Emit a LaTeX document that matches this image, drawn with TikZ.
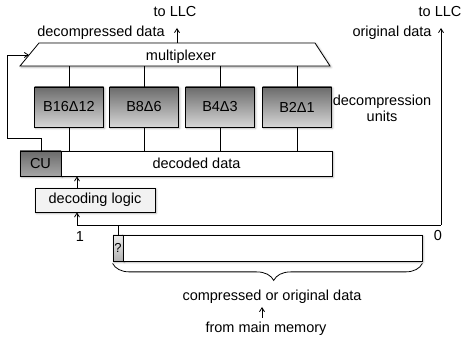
\documentclass[tikz,border=0pt]{standalone}
\usepackage{fontspec}
\setmainfont{Liberation Sans}
\usetikzlibrary{arrows.meta,decorations.pathreplacing,shadows.blur}
\begin{document}
\begin{tikzpicture}[x=1pt,y=-1pt,
  font=\fontsize{14.5}{16}\selectfont,
  line width=0.8pt,
  arr/.style={-{Straight Barb[length=4pt,width=5pt]}},
  shd/.style={blur shadow={shadow blur steps=6,shadow xshift=1.2pt,shadow yshift=-1.2pt,shadow opacity=30}},
  unitbox/.style={draw,shd,minimum width=69pt,minimum height=40pt,inner sep=0pt,top color=black!58,bottom color=black!16},
  wbox/.style={draw,shd,fill=white,minimum height=25pt,inner sep=0pt},
  lbl/.style={inner sep=0pt,anchor=base}]
\useasboundingbox (0,0) rectangle (463,344);
% multiplexer
\draw[shd,fill=white] (39,43) coordinate (mtl) -- (315,43) coordinate (mtr) -- (330,66) coordinate (mbr) -- (20,66) coordinate (mbl) -- cycle;
\node[lbl] (mux) at (181,60.5) {multiplexer};
\coordinate (muxout) at (177,43);
\coordinate (llcA) at (177,28);
\draw[arr] (muxout) -- (llcA);
\node[lbl] (llc1) at (175,17) {to LLC};
\node[lbl] (dd) at (101,37) {decompressed data};
% units
\node[unitbox] (u1) at (69,107) {B16Δ12};
\node[unitbox] (u2) at (144,107) {B8Δ6};
\node[unitbox] (u3) at (220,107) {B4Δ3};
\node[unitbox] (u4) at (297,107) {B2Δ1};
\node[align=center,inner sep=0pt] (du) at (382,108) {decompression\\units};
% decoded data
\node[wbox,minimum width=41pt,top color=black!58,bottom color=black!35] (cu) at (40.5,163.5) {CU};
\node[wbox,minimum width=271pt] (dec) at (196.5,163.5) {decoded data};
\foreach \u in {u1,u2,u3,u4}{
  \draw (\u.north) -- (\u.north |- mbl);
  \draw (\u.south) -- (\u.south |- dec.north);
}
% decoding logic
\node[draw,shd,fill=black!5,minimum width=120pt,minimum height=24pt,inner sep=0pt] (dl) at (95,200) {decoding logic};
% data block
\node[draw,shd,minimum width=10pt,minimum height=26pt,inner sep=0pt,top color=black!8,bottom color=black!30,font=\fontsize{13}{13}\selectfont] (q) at (118,248) {?};
\node[draw,shd,fill=white,minimum width=299pt,minimum height=26pt,inner sep=0pt] (data) at (272.5,248) {};
% feedback
\coordinate (fb1) at (41,138);
\coordinate (fb2) at (7,138);
\coordinate (fb3) at (7,55);
\coordinate (fb4) at (29,55);
\draw[arr] (cu.north -| fb1) -- (fb1) -- (fb2) -- (fb3) -- (fb4);
% select lines
\coordinate (sel) at (118,225);
\coordinate (selL) at (77,225);
\coordinate (selR) at (441,225);
\coordinate (llcB) at (441,28);
\draw (q.north) -- (sel);
\draw (selL) -- (selR);
\draw[arr] (selR) -- (llcB);
\draw[arr] (selL) -- (dl.south -| selL);
\draw[arr] (dl.north -| selL) -- (dec.south -| selL);
\node[lbl] (one) at (80,242) {1};
\node[lbl] (zero) at (438,241) {0};
\node[lbl] (llc2) at (440,17) {to LLC};
\node[lbl] (od) at (392,37) {original data};
% brace
\draw[decorate,decoration={brace,amplitude=17pt,aspect=0.48}] (data.south east) ++(0,2) -- ([yshift=-2pt]q.south west);
\node[lbl] (cod) at (272,301) {compressed or original data};
\coordinate (mmA) at (262,318);
\coordinate (mmB) at (262,307);
\draw[arr] (mmA) -- (mmB);
\node[lbl] (mm) at (266,333) {from main memory};
\end{tikzpicture}
\end{document}
